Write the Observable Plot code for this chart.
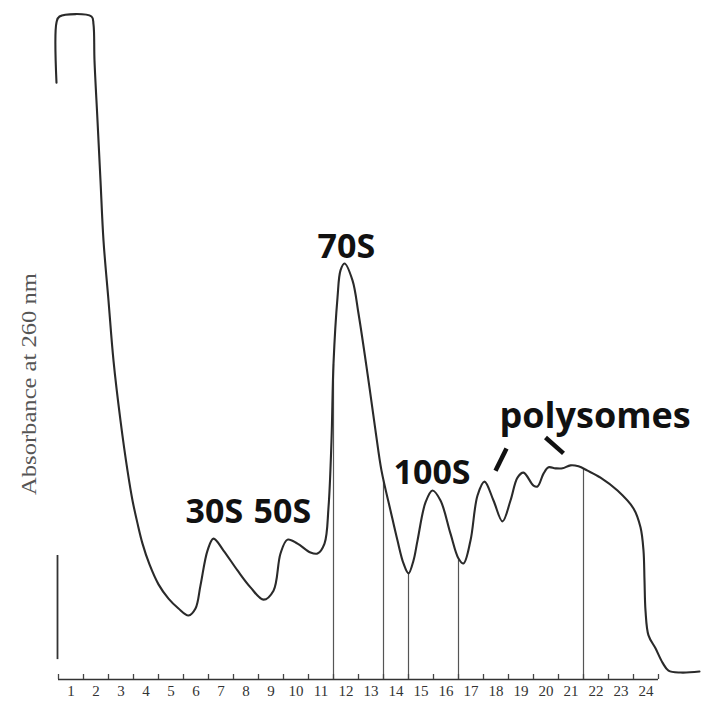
<!DOCTYPE html>
<html><head><meta charset="utf-8">
<script src="https://cdn.jsdelivr.net/npm/d3@7"></script>
<script src="https://cdn.jsdelivr.net/npm/@observablehq/plot@0.6"></script>
<style>html,body{margin:0;padding:0;background:#fff}</style>
</head><body><div id="chart"></div>
<script>
// Gradient fraction number (x) and absorbance at 260 nm (arbitrary units, y)
const fraction = [-0.08,-0.08,0.04,1.32,1.40,1.44,1.56,1.68,1.80,2.00,2.20,2.48,2.76,2.96,3.16,3.36,3.64,4.00,4.40,4.80,5.20,5.48,5.68,5.96,6.20,6.60,7.16,7.68,8.20,8.60,8.88,9.16,9.56,10.08,10.36,10.64,10.80,10.92,11.00,11.16,11.28,11.44,11.76,12.00,12.36,12.68,12.92,13.28,13.56,13.80,14.00,14.20,14.36,14.68,14.96,15.28,15.68,16.00,16.20,16.48,16.76,17.04,17.40,17.76,18.08,18.36,18.60,19.00,19.16,19.40,19.60,19.88,20.16,20.48,20.80,21.16,21.68,22.36,23.00,23.28,23.40,23.44,23.48,23.60,23.88,24.16,24.40,24.88,25.64];
const absorbance = [1.80,1.982,2.0,2.0,1.976,1.867,1.686,1.505,1.324,1.143,0.962,0.781,0.630,0.540,0.471,0.410,0.347,0.287,0.244,0.214,0.193,0.214,0.284,0.389,0.425,0.389,0.329,0.278,0.241,0.268,0.380,0.422,0.410,0.383,0.380,0.410,0.519,0.721,0.953,1.152,1.234,1.255,1.204,1.104,0.923,0.751,0.630,0.510,0.419,0.350,0.320,0.359,0.419,0.534,0.570,0.540,0.440,0.365,0.350,0.419,0.555,0.597,0.540,0.477,0.540,0.609,0.624,0.585,0.582,0.621,0.640,0.637,0.637,0.646,0.643,0.630,0.609,0.570,0.516,0.459,0.389,0.299,0.208,0.133,0.094,0.051,0.027,0.021,0.024];

// lower part of the baseline trace at the left edge
const leftEdgeX = [-0.04];
const leftEdgeY1 = [0.06];
const leftEdgeY2 = [0.374];

// fraction cut lines
const cutFractions = [11, 13, 14, 16, 21];
const cutTops = [0.95, 0.60, 0.32, 0.36, 0.635];

// fraction boundaries (ticks) and fraction numbers
const tickFractions = [0,1,2,3,4,5,6,7,8,9,10,11,12,13,14,15,16,17,18,19,20,21,22,23,24];
const tickLabels = ["1","2","3","4","5","6","7","8","9","10","11","12","13","14","15","16","17","18","19","20","21","22","23","24"];
const tickLabelX = [0.5,1.5,2.5,3.5,4.5,5.5,6.5,7.5,8.5,9.5,10.5,11.5,12.5,13.5,14.5,15.5,16.5,17.5,18.5,19.5,20.5,21.5,22.5,23.5];

// peak annotations
const peakLabels = ["30S", "50S", "70S", "100S", "polysomes"];
const peakLabelX = [5.08, 7.80, 10.36, 13.40, 17.64];
const peakLabelY = [0.471, 0.471, 1.273, 0.591, 0.760];

// pointer strokes under "polysomes"
const pointerX1 = [17.92, 19.48];
const pointerY1 = [0.697, 0.730];
const pointerX2 = [17.48, 20.20];
const pointerY2 = [0.630, 0.682];

const yTitle = "Absorbance at 260 nm";

const curve = fraction.map((x, i) => ({x, y: absorbance[i]}));
const cuts = cutFractions.map((x, i) => ({x, top: cutTops[i]}));
const leftEdge = leftEdgeX.map((x, i) => ({x, y1: leftEdgeY1[i], y2: leftEdgeY2[i]}));
const ticks = tickFractions.map(x => ({x}));
const tlabels = tickLabels.map((t, i) => ({t, x: tickLabelX[i]}));
const peaks = peakLabels.map((t, i) => ({t, x: peakLabelX[i], y: peakLabelY[i]}));
const pointers = pointerX1.map((x1, i) => ({x1, y1: pointerY1[i], x2: pointerX2[i], y2: pointerY2[i]}));

const chart = Plot.plot({
  width: 717, height: 705,
  marginLeft: 58, marginRight: 59, marginTop: 16, marginBottom: 26,
  x: {domain: [0, 24], axis: null},
  y: {domain: [0, 2], axis: null},
  style: {background: "#fff", overflow: "visible"},
  marks: [
    Plot.ruleX(cuts, {x: "x", y1: 0, y2: "top", stroke: "#555", strokeWidth: 1.2}),
    Plot.ruleY([0], {x1: 0, x2: 24, stroke: "#333", strokeWidth: 1.6}),
    Plot.ruleX(ticks, {x: "x", y1: 0, y2: 0, insetTop: -5, stroke: "#444", strokeWidth: 1.3}),
    Plot.text(tlabels, {x: "x", y: 0, text: "t", dy: 12, fontFamily: "Liberation Serif", fontSize: 15, fill: "#333"}),
    Plot.ruleX(leftEdge, {x: "x", y1: "y1", y2: "y2", stroke: "#333", strokeWidth: 1.8}),
    Plot.line(curve, {x: "x", y: "y", curve: "catmull-rom", stroke: "#2a2a2a", strokeWidth: 2.1}),
    Plot.text(peaks, {x: "x", y: "y", text: "t", textAnchor: "start", lineAnchor: "bottom",
      fontFamily: "Open Sans", fontWeight: "bold", fontSize: d => d.t === "polysomes" ? 36 : 34, fill: "#111"}),
    Plot.link(pointers, {x1: "x1", y1: "y1", x2: "x2", y2: "y2", stroke: "#111", strokeWidth: 4.5}),
    Plot.text([yTitle], {frameAnchor: "left", textAnchor: "middle", lineAnchor: "middle", dx: -29, dy: 36, rotate: -90, text: d => d,
      fontFamily: "Liberation Serif", fontSize: 21, fill: "#555", className: "ytitle"})
  ]
});
document.getElementById("chart").appendChild(chart);
d3.select(chart).selectAll(".ytitle text").attr("textLength", 222).attr("lengthAdjust", "spacingAndGlyphs");
</script>
</body></html>
